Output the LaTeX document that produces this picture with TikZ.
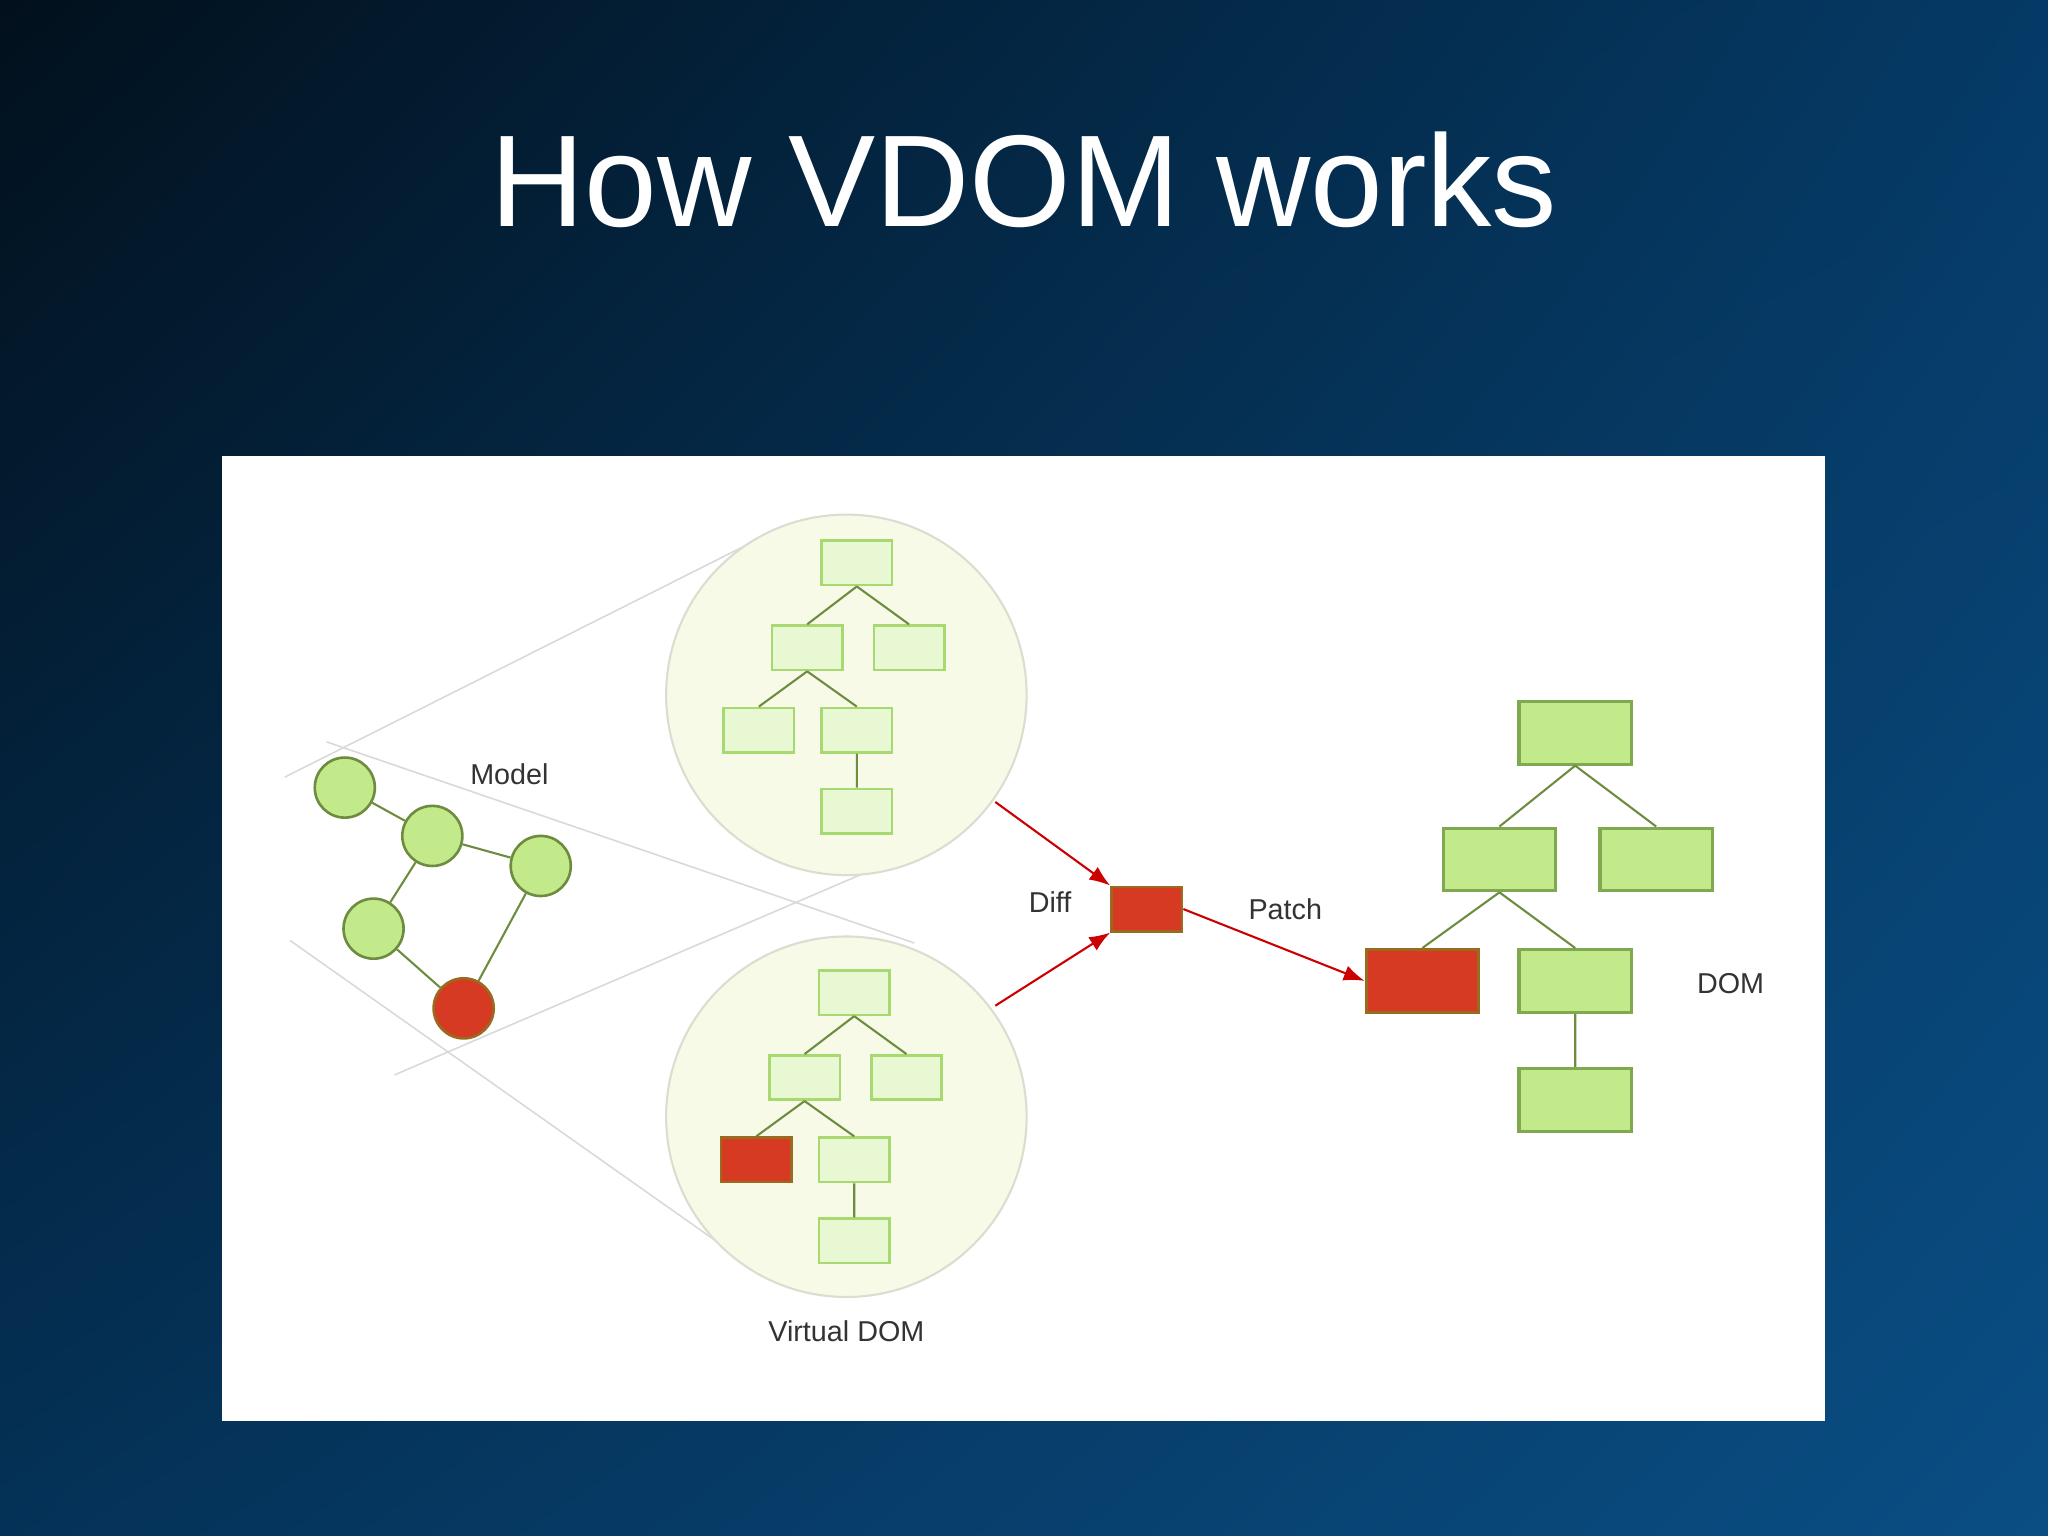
\documentclass[tikz,border=0pt]{standalone}
\usepackage{fontspec}
\setmainfont{Liberation Sans}
\usetikzlibrary{arrows.meta,shadings}
\definecolor{bgA}{HTML}{02101C}
\definecolor{bgB}{HTML}{0A4E84}
\definecolor{bgC}{HTML}{053A66}
\definecolor{vfill}{HTML}{E8F8D2}
\definecolor{vline}{HTML}{A8D870}
\definecolor{dfill}{HTML}{C2E98A}
\definecolor{dline}{HTML}{7FA850}
\definecolor{rfill}{HTML}{D63A22}
\definecolor{rline}{HTML}{9A6A20}
\definecolor{cfill}{HTML}{F8FAE8}
\definecolor{cline}{HTML}{DCDCD0}
\definecolor{edge}{HTML}{6E8C40}
\begin{document}
\begin{tikzpicture}[x=0.5pt,y=-0.5pt,
  vbox/.style={draw=vline,fill=vfill,line width=1pt,minimum width=27pt,minimum height=17pt,inner sep=0pt},
  dbox/.style={draw=dline,fill=dfill,line width=1.2pt,minimum width=43pt,minimum height=24pt,inner sep=0pt},
  red/.style={draw=rline,fill=rfill},
  mnode/.style={circle,draw=edge,fill=dfill,line width=1pt,minimum size=23pt,inner sep=0pt},
  tedge/.style={draw=edge,line width=0.8pt},
  lbl/.style={font=\fontsize{11}{13}\selectfont,text=black!80},
  funnel/.style={draw=black!15,line width=0.6pt},
  arr/.style={draw=red!80!black,line width=0.8pt,-{Latex[length=8pt,width=6pt]}}]
\useasboundingbox (0,0) rectangle (1568,1176);
\shade[upper left=bgA,upper right=bgC,lower left=bgC!80!bgA,lower right=bgB] (0,0) rectangle (1568,1176);
\node[text=white,font=\fontsize{50}{60}\selectfont] (title) at (784,138) {How VDOM works};
\fill[white] (170,349) rectangle (1397,1088);
% funnel lines
\draw[funnel] (218,595) -- (600,403);
\draw[funnel] (250,568) -- (700,722);
\draw[funnel] (222,720) -- (565,962);
\draw[funnel] (302,823) -- (700,652);
% circles
\node[circle,draw=cline,fill=cfill,minimum size=138pt,line width=0.8pt] (c1) at (648,532) {};
\node[circle,draw=cline,fill=cfill,minimum size=138pt,line width=0.8pt] (c2) at (648,855) {};
% model
\node[mnode] (ma) at (264,603) {};
\node[mnode] (mb) at (331,640) {};
\node[mnode] (mc) at (414,663) {};
\node[mnode] (md) at (286,711) {};
\node[mnode,fill=rfill,draw=rline] (me) at (355,772) {};
\draw[tedge] (ma)--(mb) (mb)--(mc) (mb)--(md) (md)--(me) (mc)--(me);
\node[lbl] (lm) at (390,593) {Model};
% top tree
\node[vbox] (t0) at (656,431) {};
\node[vbox] (t1) at (618,496) {};
\node[vbox] (t2) at (696,496) {};
\node[vbox] (t3) at (581,559) {};
\node[vbox] (t4) at (656,559) {};
\node[vbox] (t5) at (656,621) {};
\draw[tedge] (t0.south)--(t1.north) (t0.south)--(t2.north) (t1.south)--(t3.north) (t1.south)--(t4.north) (t4)--(t5);
% bottom tree
\node[vbox] (b0) at (654,760) {};
\node[vbox] (b1) at (616,825) {};
\node[vbox] (b2) at (694,825) {};
\node[vbox,red] (b3) at (579,888) {};
\node[vbox] (b4) at (654,888) {};
\node[vbox] (b5) at (654,950) {};
\draw[tedge] (b0.south)--(b1.north) (b0.south)--(b2.north) (b1.south)--(b3.north) (b1.south)--(b4.north) (b4)--(b5);
\node[lbl] (lv) at (648,1019) {Virtual DOM};
% diff
\node[vbox,red] (diff) at (878,696) {};
\coordinate (a1) at (762,614);
\coordinate (a2) at (762,770);
\draw[arr] (a1) -- (diff.north west);
\draw[arr] (a2) -- (diff.south west);
\node[lbl] (ld) at (804,691) {Diff};
\node[lbl] (lp) at (984,696) {Patch};
% DOM
\node[dbox] (d0) at (1206,561) {};
\node[dbox] (d1) at (1148,658) {};
\node[dbox] (d2) at (1268,658) {};
\node[dbox,red] (d3) at (1089,751) {};
\node[dbox] (d4) at (1206,751) {};
\node[dbox] (d5) at (1206,842) {};
\draw[tedge] (d0.south)--(d1.north) (d0.south)--(d2.north) (d1.south)--(d3.north) (d1.south)--(d4.north) (d4)--(d5);
\draw[arr] (diff.east) -- (d3.west);
\node[lbl] (ldom) at (1325,753) {DOM};
\end{tikzpicture}
\end{document}
